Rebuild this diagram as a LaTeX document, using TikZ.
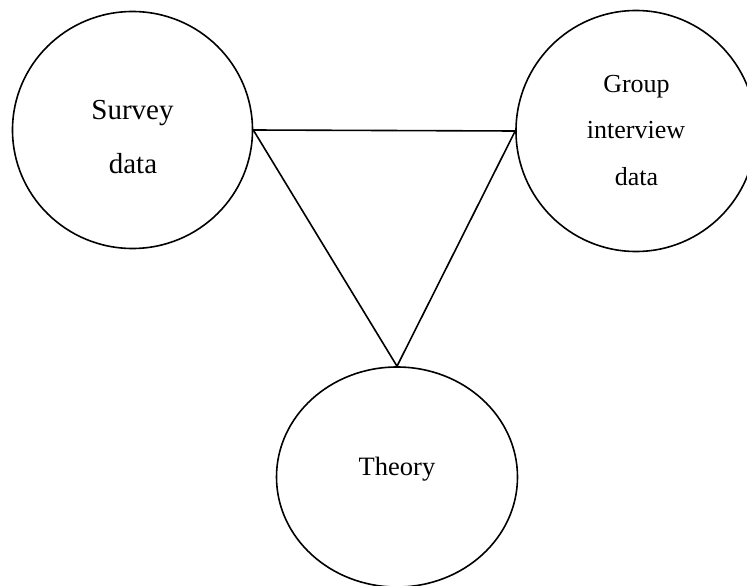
\documentclass[tikz,border=0pt]{standalone}
\usepackage{fontspec}
\setmainfont{Liberation Serif}
\usetikzlibrary{shapes.geometric}
\begin{document}
\begin{tikzpicture}[x=1pt,y=-1pt,
  bubble/.style={draw=black,line width=1.6pt,ellipse,inner sep=0pt,fill=none},
  label/.style={inner sep=0pt,anchor=base},
  link/.style={draw=black,line width=1.6pt}]
\clip (0,0) rectangle (747,586);
\fill[white] (0,0) rectangle (747,586);
\node[bubble,minimum width=240pt,minimum height=237pt] (s) at (132.5,130) {};
\node[bubble,minimum width=240pt,minimum height=241pt] (g) at (636,131) {};
\node[bubble,minimum width=241pt,minimum height=220pt] (t) at (397,477) {};
\node[label,font=\fontsize{29}{31}\selectfont] (s1) at (132.5,119) {Survey};
\node[label,font=\fontsize{29}{31}\selectfont] (s2) at (133,173) {data};
\node[label,font=\fontsize{26}{28}\selectfont] (g1) at (636.5,92.5) {Group};
\node[label,font=\fontsize{26}{28}\selectfont] (g2) at (636,138) {interview};
\node[label,font=\fontsize{26}{28}\selectfont] (g3) at (636.5,185) {data};
\node[label,font=\fontsize{26.5}{28}\selectfont] (t1) at (397,475) {Theory};
\draw[link,line join=miter] (s.east) -- (g.west) -- (t.north) -- cycle;
\end{tikzpicture}
\end{document}
